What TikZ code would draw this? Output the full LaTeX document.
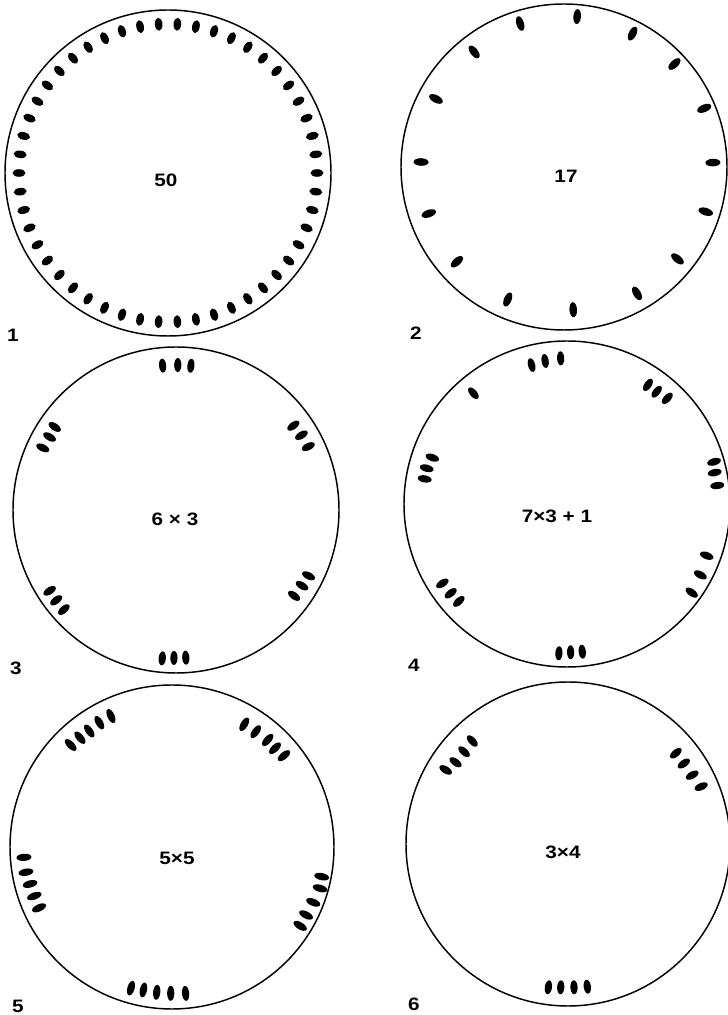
\documentclass[tikz,border=0pt]{standalone}
\usepackage{fontspec}
\setmainfont{Liberation Sans}
\usepackage{graphicx}
\newcommand\wide[1]{\scalebox{1.15}[1]{#1}}
\begin{document}
\begin{tikzpicture}[x=0.75pt,y=0.75pt,
  ring/.style={line width=1.1pt},
  num/.style={font=\fontsize{13.5}{15}\selectfont\bfseries, inner sep=0pt},
  bean/.style={fill=black}]
\useasboundingbox (0,0) rectangle (728,1015);
% centres
\coordinate (c1) at (168,842);
\coordinate (c2) at (564,848);
\coordinate (c3) at (176,505);
\coordinate (c4) at (567,511);
\coordinate (c5) at (172,168);
\coordinate (c6) at (568,171);
% rings
\draw[ring] (c1) circle (163);
\draw[ring] (c2) circle (163);
\draw[ring] (c3) circle (163);
\draw[ring] (c4) circle (163);
\draw[ring] (c5) circle (162);
\draw[ring] (c6) circle (162);
% 1: fifty
\begin{scope}[shift={(c1)}]
  \foreach \i in {0,...,49} \fill[bean,rotate=\i*7.2] (149,0) ellipse (6.5 and 3.8);
\end{scope}
% 2: seventeen
\begin{scope}[shift={(c2)}]
  \foreach \a/\r in {85/151,107/150,128/146,152/145,178/143,199/143,221.5/143,247/144,
    273.7/143,300/146,321/146,342.5/148.6,1.7/149,22.7/152,43/151,62.8/150}
    \fill[bean,rotate=\a] (\r,0) ellipse (7.5 and 3.8);
\end{scope}
% 3: 6 x 3
\begin{scope}[shift={(c3)}]
  \foreach \a/\r in {95.3/145,89.3/145,84.1/145,
    35.7/144.5,30.8/146,25.6/146.7,
    145.6/147,150/146,155/147,
    212.6/150,217/150,221.6/150,
    333.6/148,329/147,324/146,
    264.7/149,269.2/148,273.8/148}
    \fill[bean,rotate=\a] (\r,0) ellipse (7 and 3.6);
\end{scope}
% 4: 7 x 3 + 1
\begin{scope}[shift={(c4)}]
  \foreach \a/\r in {104.3/143.4,98.7/144.7,92.5/145.8,
    130.2/145,
    55.8/144,51.4/143.7,46.5/145.7,
    161/142.4,165.7/144.8,170/144.5,
    16/153,12/151,7/151.4,
    339.7/149,332/151,324.6/153,
    212.5/147.8,217.5/146.6,222/145.6,
    266.9/149.5,271.4/148.3,275.9/148.5}
    \fill[bean,rotate=\a] (\r,0) ellipse (7 and 3.6);
\end{scope}
% 5: 5 x 5
\begin{scope}[shift={(c5)}]
  \foreach \a/\r in {134.8/143.8,130.1/142.9,125.5/142.5,120.3/144,115/144.5,
    59.5/142.4,54/142.5,48.2/143.6,43.8/142.7,39.2/144.5,
    184/148.4,189.8/148.2,194.6/146.7,199.6/146.2,204.6/146.2,
    348.8/152.6,344.4/153.7,338.6/151.7,333.1/150.3,328.4/150.5,
    253.8/147,258.7/145.8,264/146.1,269.5/146.3,275.3/147}
    \fill[bean,rotate=\a] (\r,0) ellipse (7.5 and 3.6);
\end{scope}
% 6: 3 x 4
\begin{scope}[shift={(c6)}]
  \foreach \a/\r in {148.8/143,144/139,138.4/139,132.9/140.6,
    40.1/141,34.8/141,29/142,23.3/145,
    262.2/144.6,267.1/143.5,272.4/143.4,277.7/144}
    \fill[bean,rotate=\a] (\r,0) ellipse (7 and 3.6);
\end{scope}
% centre texts
\node[num] (t1) at (166,835) {\wide{50}};
\node[num] (t2) at (566,839) {\wide{17}};
\node[num] (t3) at (175,496) {\wide{6 × 3}};
\node[num] (t4) at (557,499) {\wide{7×3 + 1}};
\node[num] (t5) at (177,157) {\wide{5×5}};
\node[num] (t6) at (563,163) {\wide{3×4}};
% figure numbers
\node[num] (n1) at (13,680) {\wide{1}};
\node[num] (n2) at (416,682) {\wide{2}};
\node[num] (n3) at (16,347) {\wide{3}};
\node[num] (n4) at (414,350) {\wide{4}};
\node[num] (n5) at (18,9) {\wide{5}};
\node[num] (n6) at (414,11) {\wide{6}};
\end{tikzpicture}
\end{document}
